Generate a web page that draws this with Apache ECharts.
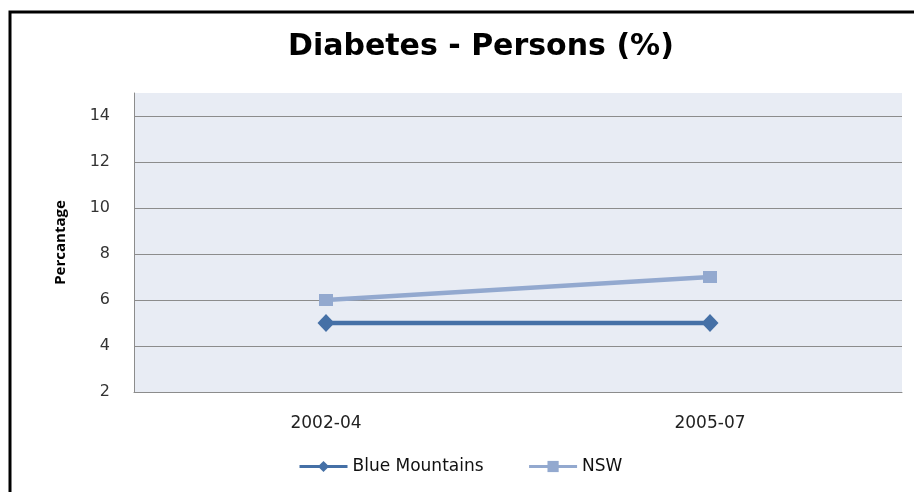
<!DOCTYPE html>
<html>
<head>
<meta charset="utf-8">
<script src="https://cdn.jsdelivr.net/npm/echarts@6/dist/echarts.min.js"></script>
<style>
  html, body { margin: 0; padding: 0; background: #fff; }
  #chart { width: 914px; height: 492px; }
</style>
</head>
<body>
<div id="chart"></div>
<script>
// data
const periods = ['2002-04', '2005-07'];
const blueMountains = [5, 5];
const nsw = [6, 7];
const seriesNames = ['Blue Mountains', 'NSW'];

const labelFont = "'DejaVu Sans', Verdana, sans-serif";

const chart = echarts.init(document.getElementById('chart'));

const option = {
    backgroundColor: '#fff',
    animation: false,
    title: {
        text: 'Diabetes - Persons (%)',
        left: 283,
        top: 27,
        textStyle: {
            fontFamily: labelFont,
            fontWeight: 'bold',
            fontSize: 30,
            color: '#000'
        }
    },
    // outer frame, only top and left edges show in the reference
    graphic: [{
        type: 'polyline',
        shape: { points: [[10, 492], [10, 12], [914, 12]] },
        style: { stroke: '#000', lineWidth: 3, fill: null }
    }],
    grid: {
        left: 134,
        right: 12,
        top: 93,
        bottom: 100,
        show: true,
        backgroundColor: '#e8ecf4',
        borderWidth: 0
    },
    legend: {
        bottom: 12,
        left: 293,
        itemWidth: 48,
        itemHeight: 14,
        itemGap: 44,
        data: seriesNames,
        lineStyle: { width: 3 },
        textStyle: {
            fontFamily: labelFont,
            fontSize: 17,
            color: '#111'
        }
    },
    xAxis: {
        type: 'category',
        data: periods,
        boundaryGap: true,
        axisLine: { show: true, lineStyle: { color: '#8c8c8c', width: 1 } },
        axisTick: { show: false },
        axisLabel: {
            margin: 23,
            fontFamily: labelFont,
            fontSize: 17,
            color: '#222'
        }
    },
    yAxis: {
        type: 'value',
        min: 2,
        max: 15,
        interval: 2,
        name: 'Percantage',
        nameLocation: 'middle',
        nameGap: 66,
        nameTextStyle: {
            fontFamily: 'Open Sans',
            fontWeight: 'bold',
            fontSize: 15,
            color: '#000'
        },
        axisLine: { show: true, lineStyle: { color: '#8c8c8c', width: 1 } },
        axisTick: { show: false },
        axisLabel: {
            margin: 24,
            showMaxLabel: false,
            fontFamily: labelFont,
            fontSize: 16,
            color: '#333'
        },
        splitLine: {
            show: true,
            showMaxLine: false,
            lineStyle: { color: '#8c8c8c', width: 1 }
        }
    },
    series: [{
        name: seriesNames[0],
        type: 'line',
        data: blueMountains,
        symbol: 'diamond',
        symbolSize: [17, 18],
        lineStyle: { color: '#4570a6', width: 4.5 },
        itemStyle: { color: '#4570a6' },
        z: 3
    }, {
        name: seriesNames[1],
        type: 'line',
        data: nsw,
        symbol: 'rect',
        symbolSize: [14, 12],
        lineStyle: { color: '#93a9cf', width: 4.5 },
        itemStyle: { color: '#93a9cf' },
        z: 2
    }]
};

chart.setOption(option);
</script>
</body>
</html>
